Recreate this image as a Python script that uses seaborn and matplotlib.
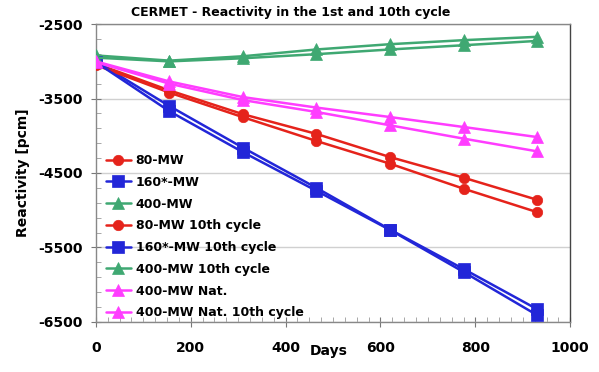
import matplotlib
matplotlib.use("Agg")
import matplotlib.pyplot as plt
from matplotlib.ticker import MultipleLocator
import numpy as np
import pandas as pd
import seaborn as sns

# Burn-up steps (days)
days = [0, 155, 310, 465, 620, 775, 930]

# Reactivity [pcm] per core configuration
mw80 = [-3030, -3390, -3710, -3975, -4286, -4563, -4860]
mw160 = [-3000, -3600, -4160, -4700, -5260, -5790, -6330]
mw400 = [-2920, -2990, -2931, -2840, -2769, -2715, -2670]
mw80_c10 = [-3050, -3420, -3750, -4070, -4375, -4711, -5026]
mw160_c10 = [-3010, -3670, -4220, -4740, -5265, -5830, -6410]
mw400_c10 = [-2950, -3000, -2958, -2903, -2840, -2783, -2725]
mw400nat = [-3000, -3270, -3480, -3621, -3748, -3882, -4017]
mw400nat_c10 = [-3010, -3300, -3520, -3680, -3859, -4038, -4209]

labels = ["80-MW", "160*-MW", "400-MW", "80-MW 10th cycle",
          "160*-MW 10th cycle", "400-MW 10th cycle", "400-MW Nat.",
          "400-MW Nat. 10th cycle"]
series = [mw80, mw160, mw400, mw80_c10, mw160_c10, mw400_c10,
          mw400nat, mw400nat_c10]

y_major = [-6500, -5500, -4500, -3500, -2500]
x_major = [0, 200, 400, 600, 800, 1000]

RED, BLUE, GREEN, MAGENTA = "#e5231b", "#2226d8", "#3fa872", "#ff3dff"
colors = [RED, BLUE, GREEN, RED, BLUE, GREEN, MAGENTA, MAGENTA]
markers = ["o", "s", "^", "o", "s", "^", "^", "^"]
msizes = [7.5, 8.5, 8, 7.5, 8.5, 8, 8, 8]

df = pd.concat(
    [pd.DataFrame({"Days": days, "Reactivity": vals, "Series": lab})
     for lab, vals in zip(labels, series)],
    ignore_index=True,
)

sns.set_theme(style="white")
plt.rcParams["font.family"] = ["DejaVu Sans"]
plt.rcParams["font.weight"] = "bold"
plt.rcParams["axes.unicode_minus"] = False

fig = plt.figure(figsize=(5.99, 3.72), dpi=100)
ax = fig.add_axes([0.160, 0.135, 0.792, 0.800])

ax.grid(axis="y", color="#d0d0d0", linewidth=1.0, zorder=0)
ax.set_axisbelow(True)

for lab, col, mk, ms in zip(labels, colors, markers, msizes):
    sub = df[df["Series"] == lab]
    sns.lineplot(data=sub, x="Days", y="Reactivity", ax=ax, color=col,
                 marker=mk, markersize=ms, markeredgecolor=col,
                 markeredgewidth=0.5, linewidth=1.8, label=lab,
                 legend=False, zorder=3)

ax.set_xlim(0, 1000)
ax.set_ylim(-6500, -2500)
ax.set_xticks(x_major)
ax.set_yticks(y_major)
ax.xaxis.set_minor_locator(MultipleLocator(25))
ax.set_yticks(np.arange(-6500, -2499, 200), minor=True)

ax.tick_params(axis="both", which="major", direction="inout", length=7,
               width=0.8, color="#777777", labelsize=10, pad=6,
               labelcolor="black")
ax.tick_params(axis="both", which="minor", direction="in", length=3.5,
               width=0.6, color="#999999")
ax.tick_params(axis="x", which="major", pad=10)
ax.tick_params(bottom=True, left=True, which="both")
for lbl in ax.get_xticklabels() + ax.get_yticklabels():
    lbl.set_fontweight("bold")

for side, col in {"left": "#888888", "bottom": "#888888",
                  "top": "#888888", "right": "#444444"}.items():
    ax.spines[side].set_color(col)
    ax.spines[side].set_linewidth(1.0)

ax.set_xlabel("Days", fontsize=10, fontweight="bold", color="black")
ax.set_ylabel("Reactivity [pcm]", fontsize=10, fontweight="bold",
              color="black", labelpad=6)
ax.xaxis.set_label_coords(0.49, -0.073)

fig.text(0.485, 0.967, "CERMET - Reactivity in the 1st and 10th cycle",
         ha="center", va="center", fontsize=9, fontweight="bold",
         color="black")

handles, hlabels = ax.get_legend_handles_labels()
leg = ax.legend(handles, hlabels, loc="lower left",
                bbox_to_anchor=(0.005, -0.017), frameon=False,
                prop={"size": 9, "weight": "bold"}, labelspacing=0.7,
                handlelength=2.0, handletextpad=0.4, borderaxespad=0.2)
for txt in leg.get_texts():
    txt.set_color("black")

fig.savefig("out.png", dpi=100)
